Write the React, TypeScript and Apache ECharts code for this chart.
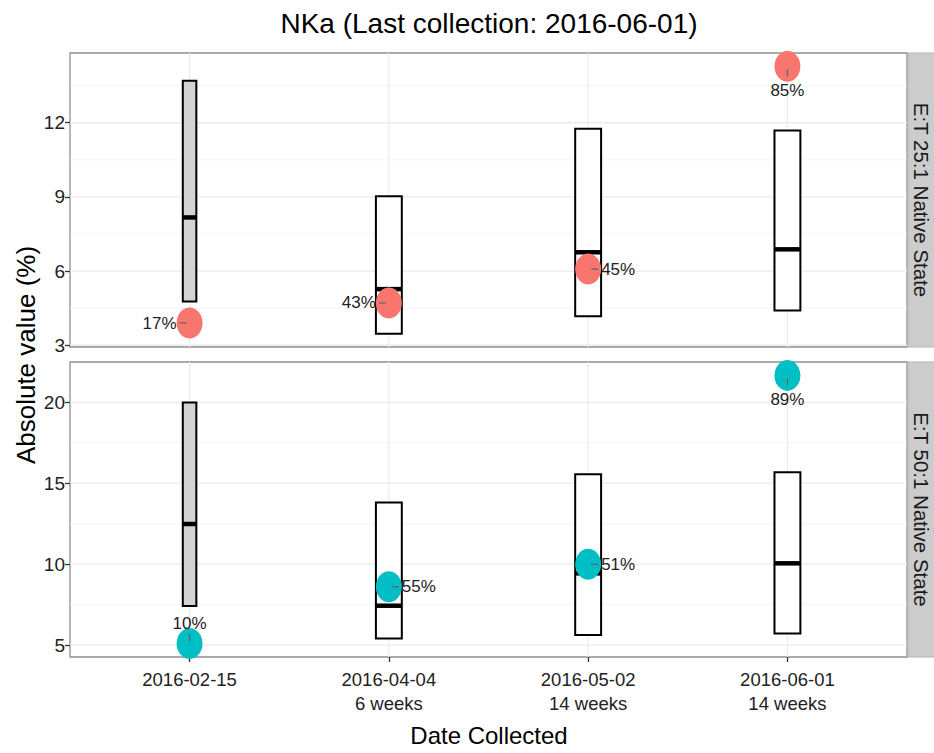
import React, { useEffect, useRef } from "react";
import * as echarts from "echarts";

// ---------- data ----------
const categories = ["2016-02-15", "2016-04-04", "2016-05-02", "2016-06-01"];
const intervalLabels = ["", "6 weeks", "14 weeks", "14 weeks"];
const panelLabels = ["E:T 25:1 Native State", "E:T 50:1 Native State"];

// E:T 25:1 panel
const rangeLow25 = [4.77, 3.47, 4.17, 4.41];
const median25 = [8.17, 5.27, 6.76, 6.88];
const rangeHigh25 = [13.7, 9.03, 11.76, 11.69];
const value25 = [3.9, 4.71, 6.08, 14.28];
const pct25 = [17, 43, 45, 85];

// E:T 50:1 panel
const rangeLow50 = [7.41, 5.41, 5.62, 5.72];
const median50 = [12.48, 7.43, 9.43, 10.05];
const rangeHigh50 = [19.98, 13.8, 15.55, 15.67];
const value50 = [5.09, 8.6, 9.99, 21.66];
const pct50 = [10, 55, 51, 89];

const ticks25 = [3, 6, 9, 12];
const ticks50 = [5, 10, 15, 20];

// ---------- styles ----------
const FONT = "'Liberation Sans', Arial, Helvetica, sans-serif";
const pointColors = ["#F8766D", "#00BFC4"];
const labelPos25 = ["left", "left", "right", "bottom"];
const labelPos50 = ["top", "right", "right", "bottom"];
const GRID_LEFT = 70;
const GRID_RIGHT = 27;
const GRID_TOPS = [53, 362];
const GRID_HEIGHTS = [294, 295];
const X_MIN = 0.4;
const X_MAX = 4.6;

function expand(vals: number[]) {
  const lo = Math.min(...vals);
  const hi = Math.max(...vals);
  const pad = (hi - lo) * 0.05;
  return [lo - pad, hi + pad];
}

function minorValues(ticks: number[], lo: number, hi: number) {
  const step = ticks[1] - ticks[0];
  const out: number[] = [];
  for (let v = ticks[0] - step / 2; v <= hi; v += step) {
    if (v >= lo) out.push(v);
  }
  return out;
}

export default function App() {
  const ref = useRef<HTMLDivElement>(null);

  useEffect(() => {
    if (!ref.current) return;
    const chart = echarts.init(ref.current, null, { renderer: "svg" });

    const panels = [
      { low: rangeLow25, med: median25, high: rangeHigh25, val: value25, pct: pct25, ticks: ticks25, pos: labelPos25 },
      { low: rangeLow50, med: median50, high: rangeHigh50, val: value50, pct: pct50, ticks: ticks50, pos: labelPos50 },
    ];

    const grids: any[] = [];
    const xAxes: any[] = [];
    const yAxes: any[] = [];
    const series: any[] = [];
    const graphics: any[] = [];

    panels.forEach((p, gi) => {
      const [ymin, ymax] = expand([...p.low, ...p.high, ...p.val]);
      grids.push({
        left: GRID_LEFT,
        right: GRID_RIGHT,
        top: GRID_TOPS[gi],
        height: GRID_HEIGHTS[gi],
        show: true,
        backgroundColor: "#fff",
        borderColor: "#8f8f8f",
        borderWidth: 1.3,
      });
      const isBottom = gi === panels.length - 1;
      xAxes.push({
        gridIndex: gi,
        type: "value",
        min: X_MIN,
        max: X_MAX,
        axisLine: { show: false },
        splitLine: { show: false },
        axisTick: {
          show: isBottom,
          customValues: [1, 2, 3, 4],
          length: 5,
          lineStyle: { color: "#333", width: 1.3 },
        },
        axisLabel: {
          show: isBottom,
          customValues: [1, 2, 3, 4],
          formatter: (v: number) => {
            const i = Math.round(v) - 1;
            return intervalLabels[i] ? categories[i] + "\n" + intervalLabels[i] : categories[i];
          },
          fontSize: 18.5,
          lineHeight: 24,
          color: "#222",
          fontFamily: FONT,
          margin: 10,
          verticalAlign: "top",
        },
      });
      yAxes.push({
        gridIndex: gi,
        type: "value",
        min: ymin,
        max: ymax,
        axisLine: { show: false },
        splitLine: { show: false },
        axisTick: {
          show: true,
          customValues: p.ticks,
          length: 5,
          lineStyle: { color: "#333", width: 1.3 },
        },
        axisLabel: {
          customValues: p.ticks,
          fontSize: 19,
          color: "#222",
          fontFamily: FONT,
          margin: 5,
        },
      });

      // grid lines (minor + major horizontal, major vertical)
      const minor = minorValues(p.ticks, ymin, ymax);
      series.push({
        type: "custom",
        xAxisIndex: gi,
        yAxisIndex: gi,
        silent: true,
        z: 1,
        data: [
          ...minor.map((v) => [0, v, 0]),
          ...p.ticks.map((v) => [0, v, 1]),
          ...categories.map((_, i) => [i + 1, 0, 2]),
        ],
        renderItem: (params: any, api: any) => {
          const cs = params.coordSys;
          const kind = api.value(2);
          if (kind === 2) {
            const px = api.coord([api.value(0), ymin])[0];
            return {
              type: "line",
              shape: { x1: px, y1: cs.y, x2: px, y2: cs.y + cs.height },
              style: { stroke: "#EBEBEB", lineWidth: 1.2 },
            };
          }
          const py = api.coord([X_MIN, api.value(1)])[1];
          return {
            type: "line",
            shape: { x1: cs.x, y1: py, x2: cs.x + cs.width, y2: py },
            style: { stroke: kind === 1 ? "#EBEBEB" : "#F3F3F3", lineWidth: kind === 1 ? 1.3 : 0.9 },
          };
        },
      });

      // range boxes with median
      series.push({
        type: "custom",
        xAxisIndex: gi,
        yAxisIndex: gi,
        z: 2,
        data: categories.map((_, i) => [i + 1, p.low[i], p.med[i], p.high[i]]),
        renderItem: (params: any, api: any) => {
          const idx = params.dataIndex;
          const x = api.value(0);
          const pLo = api.coord([x, api.value(1)]);
          const pHi = api.coord([x, api.value(3)]);
          const pMed = api.coord([x, api.value(2)]);
          const w = api.size([idx === 0 ? 0.068 : 0.13, 0])[0];
          return {
            type: "group",
            children: [
              {
                type: "rect",
                shape: { x: pLo[0] - w / 2, y: pHi[1], width: w, height: pLo[1] - pHi[1] },
                style: { fill: idx === 0 ? "#D3D3D3" : "#FFFFFF", stroke: "#000", lineWidth: 2 },
              },
              {
                type: "line",
                shape: { x1: pMed[0] - w / 2, y1: pMed[1], x2: pMed[0] + w / 2, y2: pMed[1] },
                style: { stroke: "#000", lineWidth: 4.5 },
              },
            ],
          };
        },
      });

      // points with labels
      series.push({
        type: "scatter",
        xAxisIndex: gi,
        yAxisIndex: gi,
        z: 3,
        symbol: "circle",
        symbolSize: [26, 31],
        itemStyle: { color: pointColors[gi], opacity: 1 },
        data: categories.map((_, i) => ({
          value: [i + 1, p.val[i], p.pct[i]],
          label: {
            show: true,
            position: p.pos[i],
            distance: p.pos[i] === "top" ? -4 : 0,
            formatter: `${p.pct[i]}%`,
            fontSize: 17,
            color: "#222",
            fontFamily: FONT,
          },
        })),
      });

      // small leader ticks from point centre towards label
      series.push({
        type: "custom",
        xAxisIndex: gi,
        yAxisIndex: gi,
        silent: true,
        z: 4,
        data: categories.map((_, i) => [i + 1, p.val[i]]),
        renderItem: (params: any, api: any) => {
          const c = api.coord([api.value(0), api.value(1)]);
          const pos = p.pos[params.dataIndex];
          let shape;
          if (pos === "left") shape = { x1: c[0] - 10, y1: c[1], x2: c[0] - 3, y2: c[1] };
          else if (pos === "right") shape = { x1: c[0] + 3, y1: c[1], x2: c[0] + 10, y2: c[1] };
          else if (pos === "top") shape = { x1: c[0], y1: c[1] - 10, x2: c[0], y2: c[1] - 3 };
          else shape = { x1: c[0], y1: c[1] + 3, x2: c[0], y2: c[1] + 10 };
          return { type: "line", shape, style: { stroke: "#666", lineWidth: 1.3 } };
        },
      });

      // strip
      const top = GRID_TOPS[gi];
      const h = GRID_HEIGHTS[gi];
      graphics.push({
        type: "rect",
        shape: { x: 934 - GRID_RIGHT + 1, y: top, width: GRID_RIGHT + 4, height: h },
        style: { fill: "#CCCCCC", stroke: "#B5B5B5", lineWidth: 1 },
        z: 5,
      });
      graphics.push({
        type: "text",
        x: 921,
        y: top + h / 2,
        rotation: -Math.PI / 2,
        style: {
          text: panelLabels[gi],
          fontSize: 20.5,
          fontFamily: FONT,
          fill: "#1A1A1A",
          textAlign: "center",
          textVerticalAlign: "middle",
        },
        z: 6,
      });
    });

    graphics.push({
      type: "text",
      x: 489,
      y: 23,
      style: {
        text: "NKa (Last collection: 2016-06-01)",
        fontSize: 28,
        fontFamily: FONT,
        fill: "#000",
        textAlign: "center",
        textVerticalAlign: "middle",
      },
    });
    graphics.push({
      type: "text",
      x: 489,
      y: 735,
      style: {
        text: "Date Collected",
        fontSize: 24,
        fontFamily: FONT,
        fill: "#000",
        textAlign: "center",
        textVerticalAlign: "middle",
      },
    });
    graphics.push({
      type: "text",
      x: 26,
      y: 355,
      rotation: Math.PI / 2,
      style: {
        text: "Absolute value (%)",
        fontSize: 26,
        fontFamily: FONT,
        fill: "#000",
        textAlign: "center",
        textVerticalAlign: "middle",
      },
    });

    chart.setOption({
      animation: false,
      backgroundColor: "#fff",
      grid: grids,
      xAxis: xAxes,
      yAxis: yAxes,
      series,
      graphic: graphics,
    });

    return () => chart.dispose();
  }, []);

  return (
    <div
      ref={ref}
      style={{ position: "absolute", left: 0, top: 0, width: 934, height: 753 }}
    />
  );
}
